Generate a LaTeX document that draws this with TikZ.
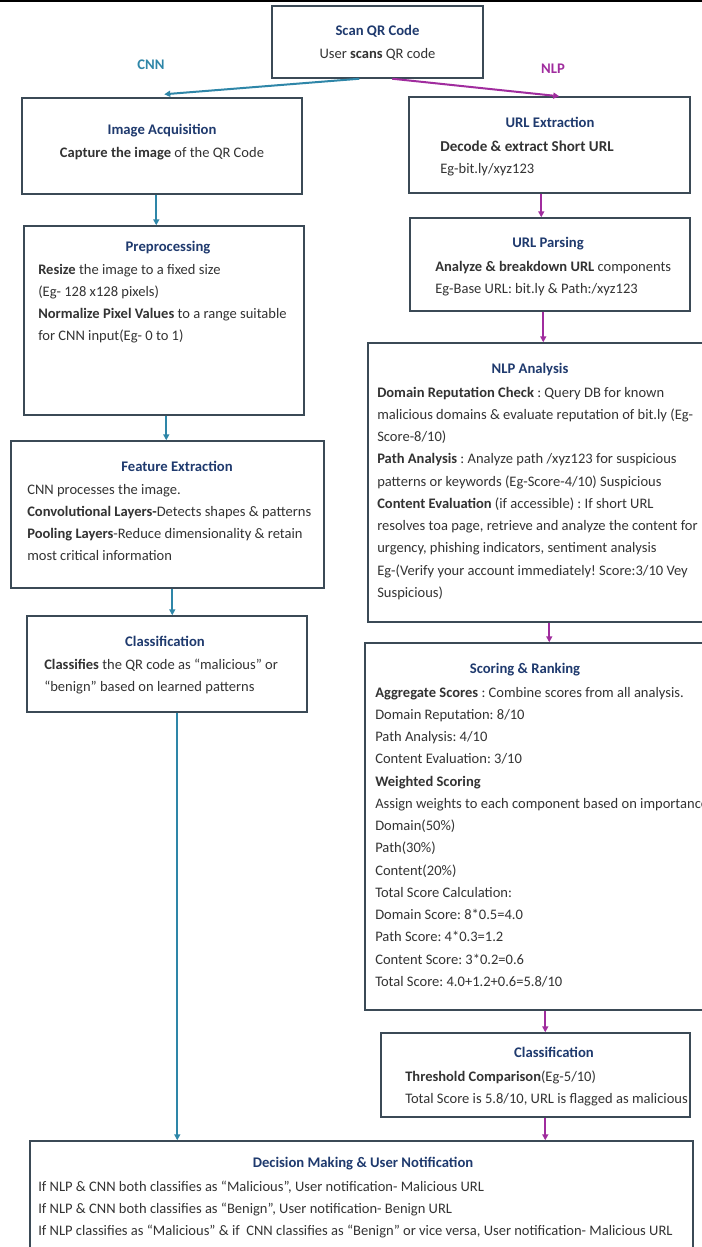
\documentclass[tikz,border=0pt]{standalone}
\usepackage{fontspec}
\setmainfont{Carlito}
\usetikzlibrary{arrows.meta,fit,calc}
\definecolor{navy}{HTML}{1F3A6E}
\definecolor{edgec}{HTML}{3B4A56}
\definecolor{cnncol}{HTML}{2E86A8}
\definecolor{nlpcol}{HTML}{A02C9E}
\definecolor{txt}{HTML}{333333}
\frenchspacing
\newcommand\bodyfont{\fontsize{10.9pt}{16.7pt}\selectfont}
\newcommand\ttlfont{\fontsize{11pt}{13pt}\selectfont\bfseries}
\newcommand\blines[1]{\vtop{\hsize=600pt\parindent=0pt\raggedright\bodyfont #1\par}}
\tikzset{
  box/.style={draw=edgec, line width=1.1pt, inner sep=0pt},
  ttl/.style={font=\ttlfont, text=navy, anchor=base, inner sep=0pt},
  bdy/.style={text=txt, anchor=base west, inner sep=0pt},
  bdyc/.style={text=txt, anchor=base, inner sep=0pt, font=\bodyfont},
  cnnarr/.style={draw=cnncol, line width=1.5pt, -{Triangle[length=4.5pt,width=4.5pt]}},
  nlparr/.style={draw=nlpcol, line width=1.5pt, -{Triangle[length=4.5pt,width=4.5pt]}},
  lbl/.style={font=\ttlfont, inner sep=0pt}
}
\begin{document}
\begin{tikzpicture}[x=0.75pt,y=-0.75pt]
\useasboundingbox (0,0) rectangle (702,1247);
\clip (0,0) rectangle (702,1247);
\fill[white] (0,0) rectangle (702,1247);
\draw[black, line width=1.5pt] (0,0.7) -- (702,0.7);

% boxes
\node[box, fit={(272,6) (483,78)}] (scan) {};
\node[box, fit={(22,98) (302,194)}] (imgacq) {};
\node[box, fit={(409,97) (690,193)}] (urlext) {};
\node[box, fit={(24,226) (304,415)}] (preproc) {};
\node[box, fit={(410,218) (690,311)}] (urlparse) {};
\node[box, fit={(368,343) (725,622)}] (nlpana) {};
\node[box, fit={(11,441) (324,588)}] (featext) {};
\node[box, fit={(27,616) (307,712)}] (classl) {};
\node[box, fit={(365,643) (725,1010)}] (scoring) {};
\node[box, fit={(381,1033) (690,1117)}] (classr) {};
\node[box, fit={(30,1141) (693,1275)}] (decision) {};

% labels
\node[lbl, text=cnncol] (cnnlbl) at (151,65) {CNN};
\node[lbl, text=nlpcol] (nlplbl) at (553,69) {NLP};

% titles and texts
\node[ttl] (scant) at (377.5,35.5) {Scan QR Code};
\node[bdyc] (scanb) at (377.5,58) {User \textbf{scans} QR code};

\node[ttl] (imgt) at (162,134) {Image Acquisition};
\node[bdyc] (imgb) at (162,157) {\textbf{Capture the image} of the QR Code};

\node[ttl] (urlextt) at (550,127) {URL Extraction};
\node[bdy] (urlextb) at (440,151) {\blines{{\fontsize{11.3pt}{16.7pt}\selectfont\bfseries Decode \& extract Short URL}\\Eg-bit.ly/xyz123}};

\node[ttl] (pret) at (168,251) {Preprocessing};
\node[bdy] (preb) at (38,274) {\blines{\textbf{Resize} the image to a fixed size\\(Eg- 128 x128 pixels)\\\textbf{Normalize Pixel Values} to a range suitable\\for CNN input(Eg- 0 to 1)}};

\node[ttl] (parset) at (548,247) {URL Parsing};
\node[bdy] (parseb) at (435,271) {\blines{\textbf{Analyze \& breakdown URL} components\\Eg-Base URL: bit.ly \& Path:/xyz123}};

\node[ttl] (nlpt) at (530,373) {NLP Analysis};
\node[bdy] (nlpb) at (377,397) {\blines{\textbf{Domain Reputation Check} : Query DB for known\\malicious domains \& evaluate reputation of bit.ly (Eg-\\Score-8/10)\\\textbf{Path Analysis} : Analyze path /xyz123 for suspicious\\patterns or keywords (Eg-Score-4/10) Suspicious\\\textbf{Content Evaluation} (if accessible) : If short URL\\resolves toa page, retrieve and analyze the content for\\urgency, phishing indicators, sentiment analysis\\Eg-(Verify your account immediately! Score:3/10 Vey\\Suspicious)}};

\node[ttl] (featt) at (177,471) {Feature Extraction};
\node[bdy] (featb) at (27,494) {\blines{CNN processes the image.\\\textbf{Convolutional Layers-}Detects shapes \& patterns\\\textbf{Pooling Layers}-Reduce dimensionality \& retain\\most critical information}};

\node[ttl] (classlt) at (165,646) {Classification};
\node[bdy] (classlb) at (44,669) {\blines{\textbf{Classifies} the QR code as “malicious” or\\“benign” based on learned patterns}};

\node[ttl] (scoret) at (525,673) {Scoring \& Ranking};
\node[bdy] (scoreb) at (375,697) {\blines{\textbf{Aggregate Scores} : Combine scores from all analysis.\\Domain Reputation: 8/10\\Path Analysis: 4/10\\Content Evaluation: 3/10\\\textbf{Weighted Scoring}\\Assign weights to each component based on importance\\Domain(50\%)\\Path(30\%)\\Content(20\%)\\Total Score Calculation:\\Domain Score: 8*0.5=4.0\\Path Score: 4*0.3=1.2\\Content Score: 3*0.2=0.6\\Total Score: 4.0+1.2+0.6=5.8/10}};

\node[ttl] (classrt) at (554,1057) {Classification};
\node[bdy] (classrb) at (405,1081) {\blines{\textbf{Threshold Comparison}(Eg-5/10)\\Total Score is 5.8/10, URL is flagged as malicious}};

\node[ttl] (dect) at (363,1167) {Decision Making \& User Notification};
\node[bdy] (decb) at (38,1191) {\blines{If NLP \& CNN both classifies as “Malicious”, User notification- Malicious URL\\If NLP \& CNN both classifies as “Benign”, User notification- Benign URL\\If NLP classifies as “Malicious” \& if\ \ CNN classifies as “Benign” or vice versa, User notification- Malicious URL}};

% connectors
\draw[cnnarr] ($(scan.south west)+(88,0)$) -- ($(imgacq.north west)+(143,-3)$);
\draw[nlparr] ($(scan.south west)+(121,0)$) -- ($(urlext.north west)+(151,0)$);
\draw[cnnarr] ($(imgacq.south west)+(135,0)$) -- ($(preproc.north west)+(133,0)$);
\draw[nlparr] ($(urlext.south west)+(133,0)$) -- ($(urlparse.north west)+(132,0)$);
\draw[cnnarr] ($(preproc.south west)+(143,0)$) -- ($(featext.north west)+(156,0)$);
\draw[nlparr] ($(urlparse.south west)+(134,0)$) -- ($(nlpana.north west)+(176,0)$);
\draw[cnnarr] ($(featext.south west)+(162,0)$) -- ($(classl.north west)+(146,0)$);
\draw[nlparr] ($(nlpana.south west)+(182,0)$) -- ($(scoring.north west)+(185,0)$);
\draw[cnnarr] ($(classl.south west)+(151,0)$) -- ($(decision.north west)+(148,0)$);
\draw[nlparr] ($(scoring.south west)+(181,0)$) -- ($(classr.north west)+(165,0)$);
\draw[nlparr] ($(classr.south west)+(165,0)$) -- ($(decision.north west)+(516,0)$);
\end{tikzpicture}
\end{document}
